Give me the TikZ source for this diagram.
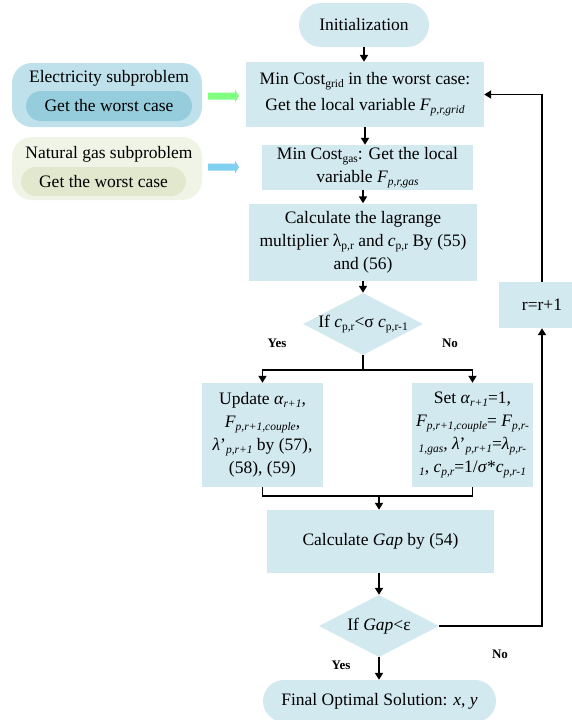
\documentclass[tikz,border=0pt]{standalone}
\usepackage{fontspec}
\setmainfont{Liberation Serif}
\usetikzlibrary{shapes.geometric,arrows.meta}
\definecolor{boxblue}{RGB}{211,233,240}
\definecolor{elecout}{RGB}{191,225,235}
\definecolor{elecin}{RGB}{150,205,221}
\definecolor{gasout}{RGB}{240,244,231}
\definecolor{gasin}{RGB}{225,232,206}
\definecolor{greenarr}{RGB}{128,255,128}
\definecolor{bluearr}{RGB}{128,208,242}
\newcommand{\fs}{\fontsize{17.5}{23}\selectfont}
\newcommand{\dn}[1]{\raisebox{-3pt}{\fontsize{11.5}{12}\selectfont #1}}
\newcommand{\idn}[1]{\raisebox{-3pt}{\fontsize{11.5}{12}\selectfont\itshape #1}}
\begin{document}
\begin{tikzpicture}[x=1pt,y=-1pt,
  box/.style={fill=boxblue, inner sep=0pt, align=center, font=\fs},
  dia/.style={diamond, fill=boxblue, inner sep=0pt, minimum width=120pt, minimum height=62pt},
  arr/.style={line width=1.8pt, -{Triangle[length=7pt,width=8pt]}},
  ln/.style={line width=1.8pt},
  lbl/.style={font=\fontsize{13}{13}\selectfont\bfseries}]
\useasboundingbox[fill=white] (0,0) rectangle (571,720);

% left side
\node[fill=elecout, rounded corners=20pt, minimum width=190pt, minimum height=64pt, inner sep=0pt] (eo) at (107,95) {};
\node[fill=elecin, rounded corners=15pt, minimum width=166pt, minimum height=30pt, inner sep=0pt, font=\fs] (ei) at (109,106) {Get the worst case};
\node[font=\fs, inner sep=0pt] (et) at (109,78) {Electricity subproblem};
\node[fill=gasout, rounded corners=20pt, minimum width=190pt, minimum height=63pt, inner sep=0pt] (go) at (107,168.5) {};
\node[fill=gasin, rounded corners=15pt, minimum width=165pt, minimum height=29pt, inner sep=0pt, font=\fs] (gi) at (103.5,181.5) {Get the worst case};
\node[font=\fs, inner sep=0pt] (gt) at (109,154) {Natural gas subproblem};
\fill[greenarr] (208,92.5) -- (235,92.5) -- (235,89.5) -- (239,96) -- (235,102.5) -- (235,99.5) -- (208,99.5) -- cycle;
\fill[bluearr] (208,163.5) -- (235,163.5) -- (235,160.5) -- (239,167) -- (235,173.5) -- (235,170.5) -- (208,170.5) -- cycle;

% main column
\node[box, rounded corners=22pt, minimum width=130pt, minimum height=44pt] (init) at (364,25) {Initialization};
\node[box, minimum width=238pt, minimum height=65pt] (b1) at (365,94.5) {Min Cost\dn{grid} in the worst case:\\[3pt]Get the local variable \textit{F}\idn{p,r,grid}};
\node[box, minimum width=211pt, minimum height=45pt] (b2) at (367.5,167.5) {Min Cost\dn{gas}: Get the local\\variable \textit{F}\idn{p,r,gas}};
\node[box, minimum width=228pt, minimum height=77pt] (b3) at (363,242) {Calculate the lagrange\\multiplier λ\dn{p,r} and \textit{c}\dn{p,r} By (55)\\and (56)};
\node[dia] (d1) at (363,324) {};
\node[font=\fs, inner sep=0pt] (d1t) at (d1) {If \textit{c}\dn{p,r}<σ \textit{c}\dn{p,r-1}};

\node[box, minimum width=121pt, minimum height=104pt] (upd) at (262.5,435) {Update \textit{α}\idn{r+1},\\\textit{F}\idn{p,r+1,couple},\\\textit{λ}'\idn{p,r+1} by (57),\\(58), (59)};
\node[box, minimum width=121pt, minimum height=104pt] (set) at (472.5,435) {Set \textit{α}\idn{r+1}=1,\\\textit{F}\idn{p,r+1,couple}= \textit{F}\idn{p,r-}\\\idn{1,gas}, \textit{λ}'\idn{p,r+1}=\textit{λ}\idn{p,r-}\\\idn{1}, \textit{c}\idn{p,r}=1/\textit{σ}*\textit{c}\idn{p,r-1}};

\node[box, minimum width=227pt, minimum height=63pt] (gap) at (380.5,541.5) {Calculate \textit{Gap} by (54)};
\node[dia] (d2) at (379,626) {};
\node[font=\fs, inner sep=0pt] (d2t) at (d2) {If \textit{Gap}<ε};
\node[box, rounded corners=21pt, minimum width=233pt, minimum height=42pt] (fin) at (379.5,701) {Final Optimal Solution: \textit{x}, \textit{y}};

\node[box, minimum width=86pt, minimum height=46pt] (rb) at (542,305) {r=r+1};

% labels
\node[lbl] (y1) at (277,343) {Yes};
\node[lbl] (n1) at (450,343) {No};
\node[lbl] (y2) at (341,665) {Yes};
\node[lbl] (n2) at (500,654) {No};

% connectors
\draw[arr] (init.south) -- (init.south |- b1.north);
\draw[arr] (b1.south) -- (b1.south |- b2.north);
\draw[arr] (b3.north |- b2.south) -- (b3.north);
\draw[arr] (b3.south) -- (d1.north);
\coordinate (sp) at (363,370);
\draw[ln] (d1.south) -- (sp);
\draw[arr] (sp) -| (upd.north);
\draw[arr] (sp) -| (set.north);
\coordinate (mg) at (379,496);
\draw[ln] (upd.south) |- (mg);
\draw[ln] (set.south) |- (mg);
\draw[arr] (mg) -- (mg |- gap.north);
\draw[arr] (d2.north |- gap.south) -- (d2.north);
\draw[arr] (d2.south) -- (d2.south |- fin.north);
\draw[arr] (d2.east) -| (rb.south);
\draw[arr] (rb.north) |- (b1.east);
\end{tikzpicture}
\end{document}
